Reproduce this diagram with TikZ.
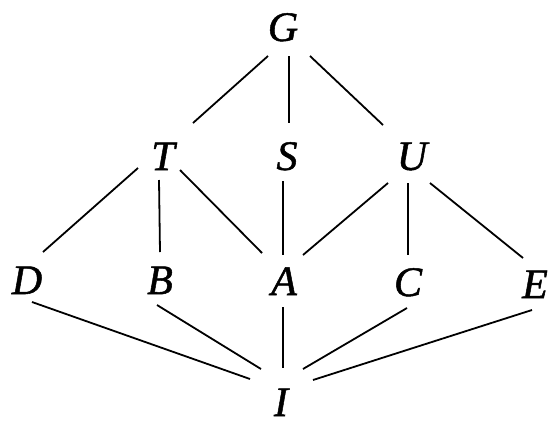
\documentclass[tikz,border=0pt]{standalone}
\usepackage{fontspec}
\setmainfont{Liberation Serif}[ItalicFeatures={FakeBold=1.2}]
\begin{document}
\begin{tikzpicture}[x=1pt,y=-1pt,
  lbl/.style={anchor=base,inner sep=0pt,font=\fontsize{42}{42}\selectfont\itshape},
  edge/.style={line width=1.8pt}]
\useasboundingbox[fill=white] (0,0) rectangle (549,421);
\node[lbl] (G) at (283,41) {G};
\node[lbl] (T) at (163,170) {T};
\node[lbl] (S) at (287,170) {S};
\node[lbl] (U) at (412,170) {U};
\node[lbl] (D) at (27,294) {D};
\node[lbl] (B) at (160,294) {B};
\node[lbl] (A) at (284,295) {A};
\node[lbl] (C) at (408,296) {C};
\node[lbl] (E) at (535,298) {E};
\node[lbl] (I) at (281,416) {I};
\draw[edge] ([shift={(-15,15)}]G.base) -- ([shift={(30,-47)}]T.base);
\draw[edge] ([shift={(6,15)}]G.base) -- ([shift={(2,-47)}]S.base);
\draw[edge] ([shift={(27,15)}]G.base) -- ([shift={(-29,-45)}]U.base);
\draw[edge] ([shift={(-25,-2)}]T.base) -- ([shift={(16,-42)}]D.base);
\draw[edge] ([shift={(-4,10)}]T.base) -- ([shift={(0,-42)}]B.base);
\draw[edge] ([shift={(17,0)}]T.base) -- ([shift={(-22,-42)}]A.base);
\draw[edge] ([shift={(-4,11)}]S.base) -- ([shift={(-1,-40)}]A.base);
\draw[edge] ([shift={(-24,13)}]U.base) -- ([shift={(19,-40)}]A.base);
\draw[edge] ([shift={(-4,13)}]U.base) -- ([shift={(0,-41)}]C.base);
\draw[edge] ([shift={(18,13)}]U.base) -- ([shift={(-12,-40)}]E.base);
\draw[edge] ([shift={(5,8)}]D.base) -- ([shift={(-31,-37)}]I.base);
\draw[edge] ([shift={(-3,11)}]B.base) -- ([shift={(-20,-47)}]I.base);
\draw[edge] ([shift={(-1,12)}]A.base) -- ([shift={(2,-48)}]I.base);
\draw[edge] ([shift={(-1,12)}]C.base) -- ([shift={(22,-47)}]I.base);
\draw[edge] ([shift={(-3,12)}]E.base) -- ([shift={(32,-36)}]I.base);
\end{tikzpicture}
\end{document}
